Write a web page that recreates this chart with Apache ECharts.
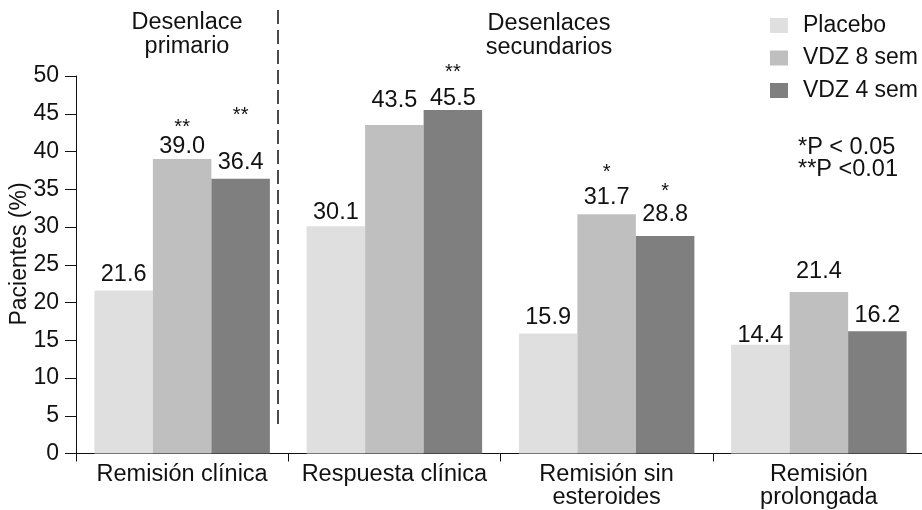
<!DOCTYPE html>
<html>
<head>
<meta charset="utf-8">
<script src="https://cdn.jsdelivr.net/npm/echarts@6/dist/echarts.min.js"></script>
<style>html,body{margin:0;padding:0;background:#fff}#c{width:922px;height:510px}</style>
</head>
<body>
<div id="c"></div>
<script>
const categories = ['Remisión clínica', 'Respuesta clínica', 'Remisión sin\nesteroides', 'Remisión\nprolongada'];
const seriesNames = ['Placebo', 'VDZ 8 sem', 'VDZ 4 sem'];
const placebo = [21.6, 30.1, 15.9, 14.4];
const vdz8 = [39.0, 43.5, 31.7, 21.4];
const vdz4 = [36.4, 45.5, 28.8, 16.2];
const starsPlacebo = ['', '', '', ''];
const starsVdz8 = ['**', '', '*', ''];
const starsVdz4 = ['**', '**', '*', ''];
const yMin = 0, yMax = 50, yStep = 5;

const FONT = '"Liberation Sans", Arial, sans-serif';
const TXT = '#111';

function labelFor(stars) {
  return {
    show: true, position: 'top', distance: 3, color: TXT, fontFamily: FONT,
    formatter: p => {
      const s = stars[p.dataIndex];
      const v = Number(p.value).toFixed(1);
      return s ? '{s|' + s + '}\n{v|' + v + '}' : '{v|' + v + '}';
    },
    rich: {
      s: { fontSize: 20, lineHeight: 22, color: TXT, fontFamily: FONT },
      v: { fontSize: 23.5, lineHeight: 26, color: TXT, fontFamily: FONT }
    }
  };
}

// per-item label placement tweaks (layout only)
const tweaks = {
  0: { 1: { distance: 1 }, 3: { distance: -4 } },
  1: { 0: { distance: 0, rich: { s: { lineHeight: 12 } } },
       1: { distance: 12 },
       2: { distance: 4, rich: { s: { lineHeight: 24 } } },
       3: { distance: 7 } },
  2: { 0: { distance: 3, rich: { s: { lineHeight: 68 } } },
       1: { distance: -2, rich: { s: { lineHeight: 26 } } },
       2: { distance: 9, rich: { s: { lineHeight: 20 } } } }
};

function makeSeries(idx, values, stars, color) {
  return {
    name: seriesNames[idx], type: 'bar', barWidth: 58.5, barGap: '0%',
    itemStyle: { color: color },
    label: labelFor(stars),
    data: values.map((v, i) => {
      const item = { value: v };
      if (tweaks[idx] && tweaks[idx][i]) item.label = tweaks[idx][i];
      return item;
    })
  };
}

const chart = echarts.init(document.getElementById('c'), null, { renderer: 'canvas' });
chart.setOption({
  animation: false,
  backgroundColor: '#fff',
  textStyle: { fontFamily: FONT, color: TXT },
  grid: { left: 76, width: 849, top: 76, height: 377.5, containLabel: false, outerBoundsMode: 'none' },
  legend: {
    orient: 'vertical', left: 770, top: 14, padding: 0, itemWidth: 18, itemHeight: 15, itemGap: 9.5,
    icon: 'rect', selectedMode: false,
    textStyle: { fontSize: 23, color: TXT, fontFamily: FONT, padding: [0, 0, 0, 10] },
    data: seriesNames
  },
  xAxis: {
    type: 'category', data: categories,
    axisLine: { lineStyle: { color: '#111', width: 1 } },
    axisTick: { show: true, length: 8, lineStyle: { color: '#111' } },
    axisLabel: { fontSize: 23.5, lineHeight: 23, color: TXT, margin: 10, interval: 0, fontFamily: FONT }
  },
  yAxis: {
    type: 'value', min: yMin, max: yMax, interval: yStep,
    splitLine: { show: false },
    axisLine: { show: true, lineStyle: { color: '#111', width: 1 } },
    axisTick: { show: true, length: 11, lineStyle: { color: '#111' } },
    axisLabel: { fontSize: 23, color: TXT, margin: 17, fontFamily: FONT }
  },
  graphic: [
    { type: 'text', x: 20, y: 254, rotation: Math.PI / 2,
      style: { text: 'Pacientes (%)', fontSize: 23, fill: TXT, fontFamily: FONT, align: 'center', verticalAlign: 'middle' } },
    { type: 'text', x: 187, y: 35,
      style: { text: 'Desenlace\nprimario', fontSize: 23.5, lineHeight: 24, fill: TXT, fontFamily: FONT, align: 'center', verticalAlign: 'middle' } },
    { type: 'text', x: 549, y: 36,
      style: { text: 'Desenlaces\nsecundarios', fontSize: 23.5, lineHeight: 24, fill: TXT, fontFamily: FONT, align: 'center', verticalAlign: 'middle' } },
    { type: 'text', x: 798, y: 159,
      style: { text: '*P < 0.05\n**P <0.01', fontSize: 23.5, lineHeight: 22, fill: TXT, fontFamily: FONT, align: 'left', verticalAlign: 'middle' } },
    { type: 'line', shape: { x1: 278, y1: 10, x2: 278, y2: 425 },
      style: { stroke: '#111', lineWidth: 1.5, lineDash: [14, 6] } }
  ],
  series: [
    makeSeries(0, placebo, starsPlacebo, '#dfdfdf'),
    makeSeries(1, vdz8, starsVdz8, '#bfbfbf'),
    makeSeries(2, vdz4, starsVdz4, '#7f7f7f')
  ]
});
</script>
</body>
</html>
